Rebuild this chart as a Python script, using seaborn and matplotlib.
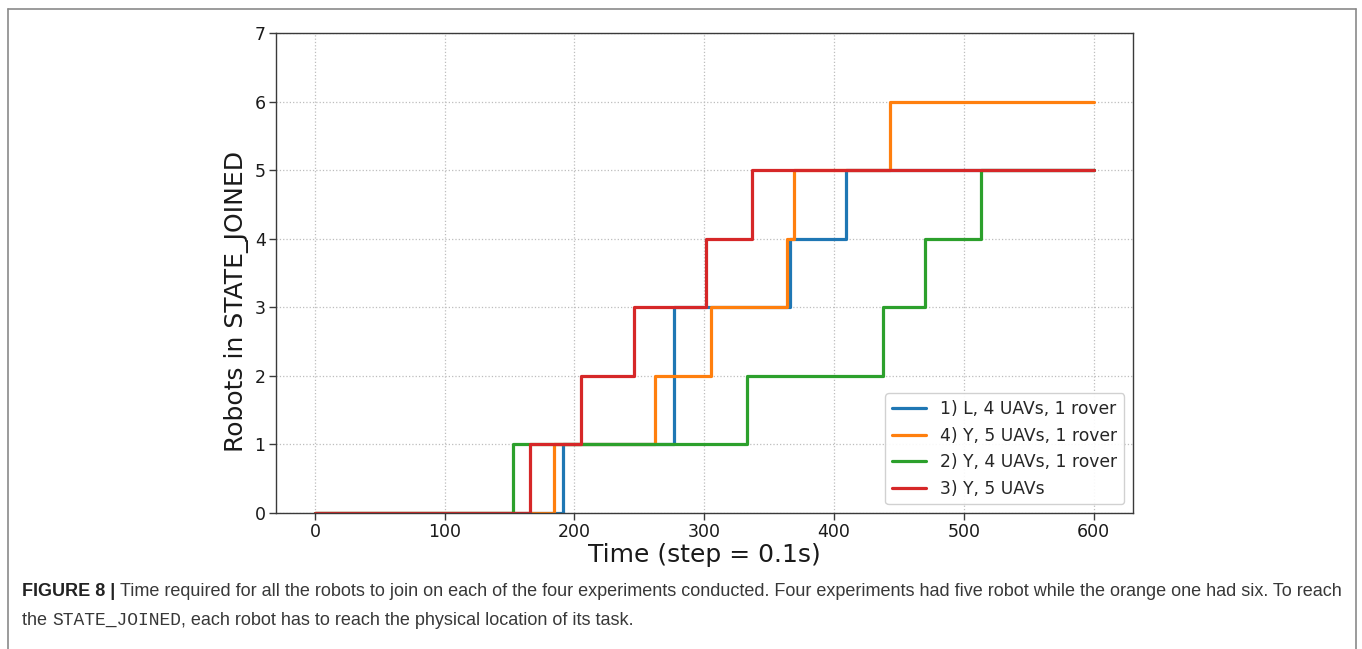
import numpy as np
import pandas as pd
import matplotlib
matplotlib.use("Agg")
import matplotlib.pyplot as plt
from matplotlib.lines import Line2D
import seaborn as sns

# Step times (0.1 s steps) at which the joined-robot count changes, per experiment
exp_names = ["1) L, 4 UAVs, 1 rover", "4) Y, 5 UAVs, 1 rover",
             "2) Y, 4 UAVs, 1 rover", "3) Y, 5 UAVs"]
exp1_time = [0, 191, 277, 366, 409, 600]
exp1_count = [0, 1, 3, 4, 5, 5]
exp4_time = [0, 184, 262, 305, 364, 369, 443, 600]
exp4_count = [0, 1, 2, 3, 4, 5, 6, 6]
exp2_time = [0, 153, 333, 438, 470, 513, 600]
exp2_count = [0, 1, 2, 3, 4, 5, 5]
exp3_time = [0, 166, 205, 246, 301, 337, 600]
exp3_count = [0, 1, 2, 3, 4, 5, 5]
x_ticks = [0, 100, 200, 300, 400, 500, 600]
y_ticks = [0, 1, 2, 3, 4, 5, 6, 7]

frames = []
for name, t, c in zip(exp_names,
                      [exp1_time, exp4_time, exp2_time, exp3_time],
                      [exp1_count, exp4_count, exp2_count, exp3_count]):
    frames.append(pd.DataFrame({"time": t, "robots": c, "experiment": name}))
df = pd.concat(frames, ignore_index=True)

sns.set_style("white")
plt.rcParams["font.family"] = ["DejaVu Sans"]

fig = plt.figure(figsize=(13.62, 6.49), dpi=100)
ax = fig.add_axes([276 / 1362, 1 - 513 / 649, (1132.5 - 276) / 1362, (513 - 33) / 649])

palette = sns.color_palette("tab10", 4)
sns.lineplot(data=df, x="time", y="robots", hue="experiment", hue_order=exp_names,
             palette=palette, drawstyle="steps-post", estimator=None, sort=False,
             linewidth=2.3, ax=ax, legend=False)

ax.set_xlim(-30, 630)
ax.set_ylim(0, 7)
ax.set_xticks(x_ticks)
ax.set_yticks(y_ticks)
ax.grid(True, linestyle=":", color="#bdbdbd", linewidth=0.9)
ax.set_axisbelow(True)
for s in ax.spines.values():
    s.set_color("#3a3a3a")
    s.set_linewidth(1.0)
ax.tick_params(axis="both", direction="out", length=5, width=1, color="#3a3a3a",
               labelsize=12.5, labelcolor="#1a1a1a", bottom=True, left=True, pad=2.5)
ax.set_xlabel("Time (step = 0.1s)", fontsize=18, color="#1a1a1a", labelpad=1)
ax.set_ylabel("Robots in STATE_JOINED", fontsize=18, color="#1a1a1a")
ax.yaxis.set_label_coords(-0.031, 0.44)

handles = [Line2D([0], [0], color=palette[i], linewidth=2.3) for i in range(4)]
leg = ax.legend(handles, exp_names, loc="lower right", fontsize=12.3, frameon=True,
                fancybox=True, framealpha=0.9, edgecolor="#cccccc",
                borderaxespad=0.5, handlelength=2.0)

# Outer caption frame
frame_col = "#8a8a8a"
fig.add_artist(Line2D([8 / 1362, 8 / 1362], [0, 1 - 9 / 649], transform=fig.transFigure,
                      color=frame_col, linewidth=1.2))
fig.add_artist(Line2D([1356 / 1362, 1356 / 1362], [0, 1 - 9 / 649], transform=fig.transFigure,
                      color=frame_col, linewidth=1.2))
fig.add_artist(Line2D([8 / 1362, 1356 / 1362], [1 - 9 / 649, 1 - 9 / 649],
                      transform=fig.transFigure, color=frame_col, linewidth=1.2))

# Caption, written piece by piece so that mixed fonts sit on one baseline
fig.canvas.draw()
renderer = fig.canvas.get_renderer()
cap_size = 13.0
cap_col = "#383838"


def write_line(pieces, x_px, y_px):
    x = x_px
    for txt, kw in pieces:
        t = fig.text(x / 1362, 1 - y_px / 649, txt, fontsize=cap_size, va="baseline",
                     ha="left", **kw)
        bb = t.get_window_extent(renderer=renderer)
        x += bb.width


sans = dict(family=["Liberation Sans", "DejaVu Sans"], color=cap_col)
sans_bold = dict(family=["Liberation Sans", "DejaVu Sans"], color="#222222", weight="bold")
mono = dict(family=["Liberation Mono", "DejaVu Sans Mono"], color=cap_col)

write_line([("FIGURE 8 | ", sans_bold),
            ("Time required for all the robots to join on each of the four experiments "
             "conducted. Four experiments had five robot while the orange one had six. To reach",
             sans)], 22, 596)
write_line([("the ", sans), ("STATE_JOINED", mono),
            (", each robot has to reach the physical location of its task.", sans)], 22, 625)

fig.savefig("out.png", dpi=100)
